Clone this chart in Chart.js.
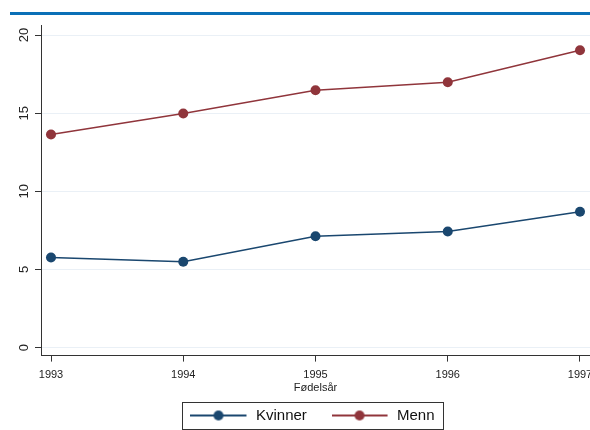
<!DOCTYPE html>
<html lang="no">
<head>
    <meta charset="UTF-8">
    <title>Fødelsår</title>
    <script src="https://cdn.jsdelivr.net/npm/chart.js"></script>
    <style>
        body { margin: 0; background: #fff; overflow: hidden; width: 590px; height: 430px; position: relative; }
        .topline { position: absolute; top: 12px; left: 10px; right: 0; height: 3px; background: #0a70b7; }
        .wrap { position: absolute; top: 0; left: 0; width: 610px; height: 430px; }
    </style>
</head>
<body>
    <div class="wrap"><canvas id="chart"></canvas></div>
    <div class="topline"></div>
    <script>
        const years = [1993, 1994, 1995, 1996, 1997];
        const kvinner = [5.77, 5.49, 7.13, 7.43, 8.69];
        const menn = [13.63, 14.98, 16.47, 16.98, 19.03];
        const yTicks = [0, 5, 10, 15, 20];

        const navy = '#1a476f';
        const maroon = '#90353b';
        const font = 'Liberation Sans';

        // legend symbol: short line with dot in the middle
        function legendSymbol(color) {
            const c = document.createElement('canvas');
            c.width = 58; c.height = 14;
            const g = c.getContext('2d');
            g.fillStyle = color;
            g.fillRect(0, 6, 56, 2);
            g.beginPath(); g.arc(28, 7, 5, 0, Math.PI * 2); g.fill();
            return c;
        }

        // y tick labels are rotated and centred on the tick, stata style
        const yLabels = {
            id: 'yLabels',
            afterDraw(chart) {
                const s = chart.scales.y;
                const ctx = chart.ctx;
                ctx.save();
                ctx.fillStyle = '#222';
                ctx.font = '13px "' + font + '"';
                ctx.textAlign = 'center';
                ctx.textBaseline = 'middle';
                yTicks.forEach(v => {
                    ctx.save();
                    ctx.translate(s.left - 11, s.getPixelForValue(v));
                    ctx.rotate(-Math.PI / 2);
                    ctx.fillText(String(v), 0, 0);
                    ctx.restore();
                });
                ctx.restore();
            }
        };

        const legendBox = {
            id: 'legendBox',
            afterDraw(chart) {
                const boxes = chart.legend.legendHitBoxes;
                if (!boxes || !boxes.length) return;
                let l = Infinity, t = Infinity, r = -Infinity, b = -Infinity;
                boxes.forEach(h => {
                    l = Math.min(l, h.left); t = Math.min(t, h.top);
                    r = Math.max(r, h.left + h.width); b = Math.max(b, h.top + h.height);
                });
                const ctx = chart.ctx;
                ctx.save();
                ctx.strokeStyle = '#333';
                ctx.lineWidth = 1;
                ctx.strokeRect(Math.round(l - 8) + 0.5, Math.round(t - 6) + 0.5, Math.round(r - l + 17), Math.round(b - t + 12));
                ctx.restore();
            }
        };

        const toPoints = arr => arr.map((v, i) => ({ x: years[i], y: v }));

        new Chart(document.getElementById('chart'), {
            type: 'line',
            data: {
                datasets: [{
                    label: 'Kvinner',
                    data: toPoints(kvinner),
                    borderColor: navy,
                    backgroundColor: navy,
                    borderWidth: 1.5,
                    pointRadius: 5,
                    pointBorderWidth: 0,
                    tension: 0
                }, {
                    label: 'Menn',
                    data: toPoints(menn),
                    borderColor: maroon,
                    backgroundColor: maroon,
                    borderWidth: 1.5,
                    pointRadius: 5,
                    pointBorderWidth: 0,
                    tension: 0
                }]
            },
            options: {
                responsive: true,
                maintainAspectRatio: false,
                animation: false,
                layout: { padding: { left: 35, right: 20, top: 25, bottom: -3 } },
                scales: {
                    x: {
                        type: 'linear',
                        min: 1993 - 10 / 132.25,
                        max: 1997 + 10 / 132.25,
                        afterBuildTicks: axis => { axis.ticks = years.map(v => ({ value: v })); },
                        ticks: {
                            color: '#222',
                            font: { family: font, size: 11 },
                            padding: 7,
                            callback: v => String(v)
                        },
                        grid: { drawOnChartArea: false, tickLength: 6, tickColor: '#333' },
                        border: { color: '#333', width: 1 },
                        title: {
                            display: true,
                            text: 'Fødelsår',
                            color: '#222',
                            font: { family: font, size: 11 },
                            padding: { top: -7, bottom: 5 }
                        }
                    },
                    y: {
                        min: -0.51,
                        max: 20.64,
                        afterBuildTicks: axis => { axis.ticks = yTicks.map(v => ({ value: v })); },
                        ticks: { display: false },
                        grid: { color: '#eaf0f6', tickLength: 6, tickColor: '#333', lineWidth: 1 },
                        border: { color: '#333', width: 1 }
                    }
                },
                plugins: {
                    legend: {
                        position: 'bottom',
                        labels: {
                            color: '#111',
                            font: { family: font, size: 15 },
                            padding: 8,
                            usePointStyle: true,
                            pointStyleWidth: 58,
                            generateLabels: chart => chart.data.datasets.map((ds, i) => ({
                                // trailing spaces widen the gap between the two entries
                                text: i === 0 ? ds.label + '    ' : ds.label,
                                pointStyle: legendSymbol(ds.borderColor),
                                fillStyle: ds.borderColor,
                                strokeStyle: ds.borderColor,
                                lineWidth: 0,
                                hidden: false,
                                datasetIndex: i,
                                fontColor: '#111'
                            }))
                        }
                    },
                    tooltip: { enabled: false }
                }
            },
            plugins: [yLabels, legendBox]
        });
    </script>
</body>
</html>
